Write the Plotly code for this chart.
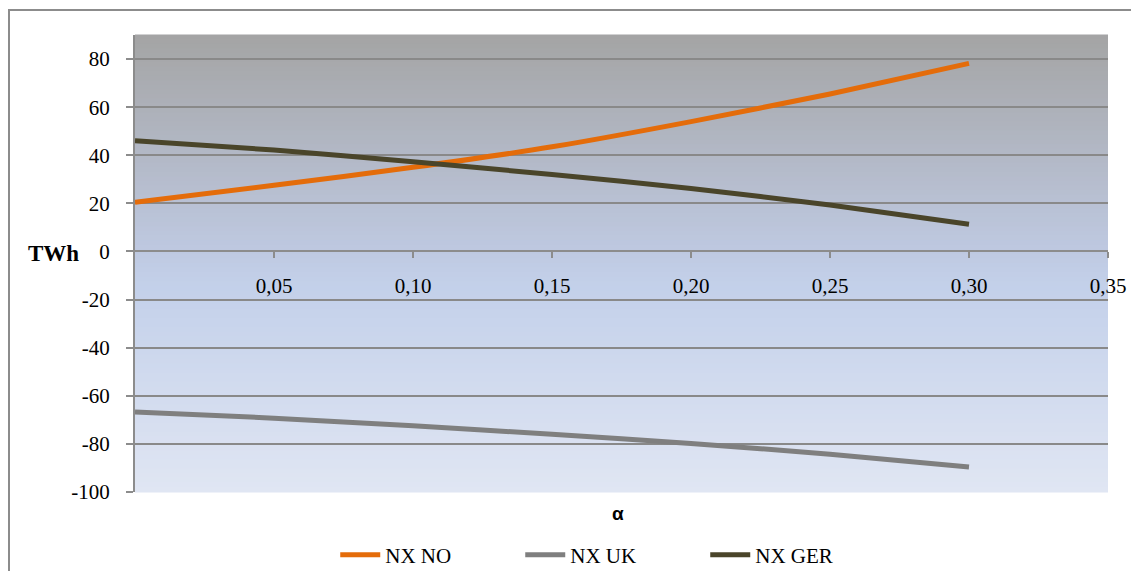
import plotly.graph_objects as go

# ---- data ----
alpha = [0.0, 0.05, 0.10, 0.15, 0.20, 0.25, 0.30]
nx_no = [20.5, 27.5, 35.0, 43.5, 54.0, 65.5, 78.2]
nx_uk = [-66.7, -69.3, -72.5, -76.0, -79.8, -84.3, -89.6]
nx_ger = [46.0, 42.2, 37.3, 32.0, 26.2, 19.3, 11.3]
series_names = ["NX NO", "NX UK", "NX GER"]
series_colors = ["#E46C0A", "#7F7F7F", "#4A452A"]
x_ticks = [0.05, 0.10, 0.15, 0.20, 0.25, 0.30, 0.35]
y_ticks = [-100, -80, -60, -40, -20, 0, 20, 40, 60, 80]

FONT = "'Liberation Serif', 'Times New Roman', 'DejaVu Serif', serif"

fig = go.Figure()
for name, vals, col in zip(series_names, [nx_no, nx_uk, nx_ger], series_colors):
    fig.add_trace(go.Scatter(
        x=alpha, y=vals, name=name, mode="lines",
        line=dict(color=col, width=5, shape="spline", smoothing=0.6),
    ))

# gradient background for plot area (gray top -> light blue bottom)
stops = [(0.0, (164, 164, 164)), (0.45, (189, 199, 222)),
         (0.55, (195, 208, 234)), (1.0, (224, 230, 243))]

def col_at(t):
    for (t0, c0), (t1, c1) in zip(stops[:-1], stops[1:]):
        if t0 <= t <= t1:
            f = (t - t0) / (t1 - t0)
            return "rgb(%d,%d,%d)" % tuple(round(a + (b - a) * f) for a, b in zip(c0, c1))
    return "rgb(%d,%d,%d)" % stops[-1][1]

shapes = []
N = 100
for i in range(N):
    t = (i + 0.5) / N  # from top
    shapes.append(dict(type="rect", xref="paper", yref="paper",
                       x0=0, x1=1, y0=1 - (i + 1) / N - 0.001, y1=1 - i / N + 0.001,
                       fillcolor=col_at(t), line=dict(width=0), layer="below"))
# outer chart border
shapes.append(dict(type="rect", xref="paper", yref="paper",
                   x0=-0.1295, x1=1.05, y0=-0.2, y1=1.0547,
                   line=dict(color="#8C8C8C", width=2), fillcolor="rgba(0,0,0,0)",
                   layer="above"))

fig.update_layout(
    width=1131, height=563,
    margin=dict(l=127, r=31, t=27, b=79, autoexpand=False),
    paper_bgcolor="white", plot_bgcolor="white",
    font=dict(family=FONT, size=21, color="#000000"),
    shapes=shapes,
    showlegend=True,
    legend=dict(orientation="h", x=0.491, xanchor="center", y=-0.138, yanchor="middle",
                font=dict(family=FONT, size=21), bgcolor="rgba(0,0,0,0)",
                itemwidth=40, tracegroupgap=0, entrywidth=130, entrywidthmode="pixels"),
    annotations=[
        dict(text="<b>TWh</b>", xref="paper", yref="paper", x=-0.0555, y=0.521,
             xanchor="right", yanchor="middle", showarrow=False,
             font=dict(family=FONT, size=23)),
        dict(text="<b>α</b>", xref="paper", yref="paper", x=0.496, y=-0.046,
             xanchor="center", yanchor="middle", showarrow=False,
             font=dict(family="Liberation Sans", size=19)),
    ],
)

fig.update_xaxes(
    range=[0, 0.35], tickvals=x_ticks,
    ticktext=[("%.2f" % v).replace(".", ",") for v in x_ticks],
    anchor="free", position=100 / 190,
    showline=True, linecolor="#8C8C8C", linewidth=2,
    ticks="outside", ticklen=6, tickcolor="#8C8C8C", tickwidth=2,
    ticklabelstandoff=9,
    showgrid=False, zeroline=False,
    tickfont=dict(family=FONT, size=21),
)
fig.update_yaxes(
    range=[-100, 90], tickvals=y_ticks,
    ticktext=[str(v) for v in y_ticks],
    showline=True, linecolor="#8C8C8C", linewidth=2,
    ticks="outside", ticklen=7, tickcolor="#8C8C8C", tickwidth=2,
    ticklabelstandoff=12,
    showgrid=True, gridcolor="#898989", gridwidth=2,
    zeroline=False,
    tickfont=dict(family=FONT, size=21),
)

fig.write_html("out.html")
